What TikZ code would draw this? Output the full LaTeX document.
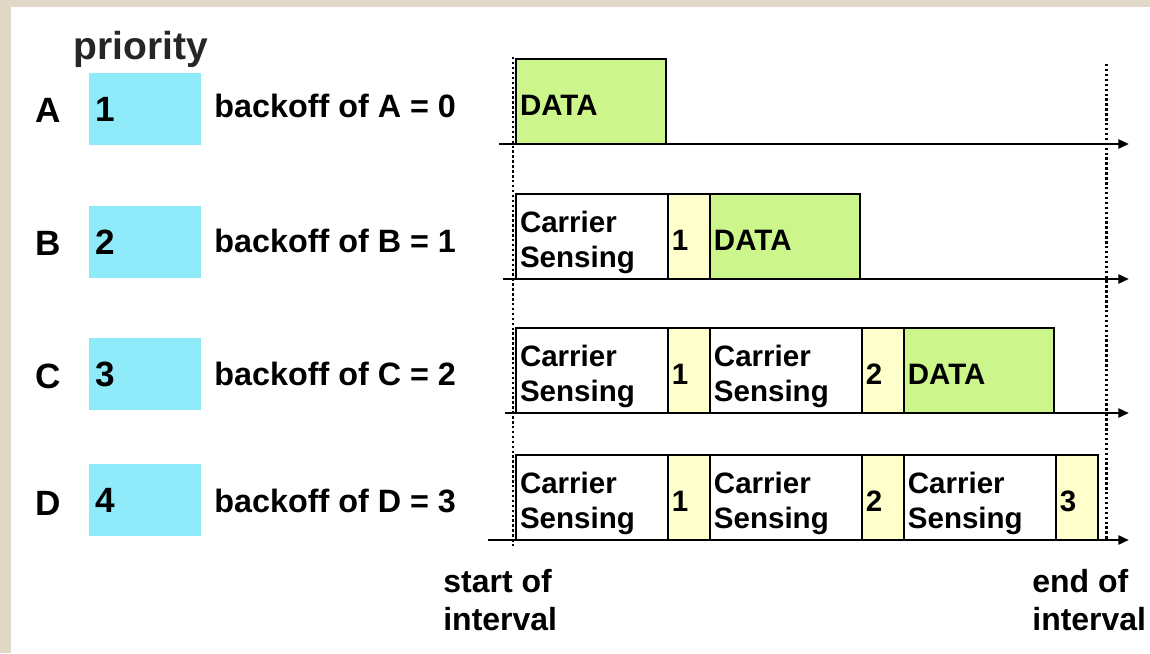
\documentclass[tikz,border=0pt]{standalone}
\usepackage{fontspec}
\setmainfont{Liberation Sans}
\usepackage{xcolor}
\usetikzlibrary{arrows.meta,positioning}
\definecolor{prioblue}{RGB}{143,234,250}
\definecolor{datagreen}{RGB}{204,246,140}
\definecolor{slotyellow}{RGB}{255,255,204}
\definecolor{framebeige}{RGB}{225,216,199}

\begin{document}
\begin{tikzpicture}[
x=0.02cm,
y=-0.02cm,
every node/.style={font=\bfseries\fontsize{18.4}{22}\selectfont},
row/.style={font=\bfseries\fontsize{20}{24}\selectfont},
prio/.style={rectangle,fill=prioblue,minimum width=2.24cm,minimum height=1.44cm,text width=2.0cm,inner xsep=0.12cm,inner ysep=0pt,align=left,font=\bfseries\fontsize{20}{24}\selectfont},
backoff/.style={anchor=west,inner sep=0pt},
seg/.style={rectangle,draw,line width=1.5pt,outer sep=0pt,inner xsep=0.08cm,inner ysep=0pt,minimum height=1.70cm,align=left,text height=15.4pt,text depth=0pt,font=\bfseries\fontsize{16.8}{20}\selectfont},
cs/.style={seg,fill=white,text width=2.88cm,text depth=20pt},
slot/.style={seg,fill=slotyellow,text width=0.68cm},
data/.style={seg,fill=datagreen,text width=2.84cm},
axis/.style={-{Triangle[length=6pt,width=5pt]},line width=1.5pt},
bound/.style={line width=1.7pt,dash pattern=on 1.4pt off 1.4pt},
edge/.style={anchor=north west,align=left,inner sep=0pt,font=\bfseries\fontsize{18.2}{21.6}\selectfont}
]
\useasboundingbox (0,0) rectangle (1150,653);
\fill[framebeige] (0,0) rectangle (1150,653);
\fill[white] (11,7) rectangle (1150,653);

% left column
\node[font=\bfseries\fontsize{22.2}{26}\selectfont,text=black!85] (prioTitle) at (141,49) {priority};
\node[row] (lA) at (48,110) {A};
\node[row] (lB) at (48,243) {B};
\node[row] (lC) at (48,376) {C};
\node[row] (lD) at (48,503) {D};
\node[prio] (pA) at (145,109) {1};
\node[prio] (pB) at (145,242) {2};
\node[prio] (pC) at (145,374) {3};
\node[prio] (pD) at (145,500) {4};
\node[backoff] (bA) at (214,106) {backoff of A = 0};
\node[backoff] (bB) at (214,241) {backoff of B = 1};
\node[backoff] (bC) at (214,374) {backoff of C = 2};
\node[backoff] (bD) at (214,501) {backoff of D = 3};

% start and end of the interval
\coordinate (t0) at (513,57);
\coordinate (t0b) at (513,547);
\coordinate (t1) at (1106,64);
\coordinate (t1b) at (1106,540);
\draw[bound] (t0) -- (t0b);
\draw[bound] (t1) -- (t1b);

% row A
\node[data,anchor=south west] (dA) at (516,144) {DATA};

% row B
\node[cs,anchor=south west] (csB1) at (516,279) {Carrier\\Sensing};
\node[slot,right=0pt of csB1] (sB1) {1};
\node[data,right=0pt of sB1] (dB) {DATA};

% row C
\node[cs,anchor=south west] (csC1) at (516,413) {Carrier\\Sensing};
\node[slot,right=0pt of csC1] (sC1) {1};
\node[cs,right=0pt of sC1] (csC2) {Carrier\\Sensing};
\node[slot,right=0pt of csC2] (sC2) {2};
\node[data,right=0pt of sC2] (dC) {DATA};

% row D
\node[cs,anchor=south west] (csD1) at (516,540) {Carrier\\Sensing};
\node[slot,right=0pt of csD1] (sD1) {1};
\node[cs,right=0pt of sD1] (csD2) {Carrier\\Sensing};
\node[slot,right=0pt of csD2] (sD2) {2};
\node[cs,right=0pt of sD2] (csD3) {Carrier\\Sensing};
\node[slot,right=0pt of csD3] (sD3) {3};

% time axes
\coordinate (axA0) at (499,144);
\coordinate (axA1) at (1129,144);
\coordinate (axB0) at (503,279);
\coordinate (axB1) at (1129,279);
\coordinate (axC0) at (505,413);
\coordinate (axC1) at (1129,413);
\coordinate (axD0) at (488,540);
\coordinate (axD1) at (1129,540);
\draw[axis] (axA0) -- (axA1);
\draw[axis] (axB0) -- (axB1);
\draw[axis] (axC0) -- (axC1);
\draw[axis] (axD0) -- (axD1);

\node[edge] (start) at (443,569) {start of\\interval};
\node[edge] (end) at (1032,569) {end of\\interval};
\end{tikzpicture}
\end{document}
